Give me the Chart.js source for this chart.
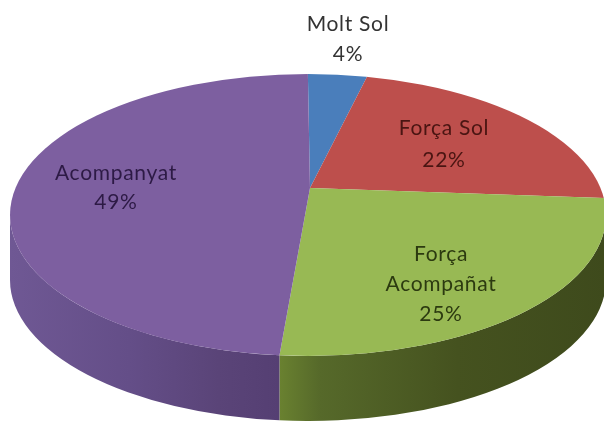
<!DOCTYPE html>
<html>
<head>
<meta charset="utf-8">
<style>html,body{margin:0;padding:0;background:#fff}canvas{display:block}</style>
<script src="https://cdn.jsdelivr.net/npm/chart.js@4"></script>
</head>
<body>
<canvas id="c" width="604" height="421"></canvas>
<script>
const categories = ["Molt Sol", "Força Sol", "Força Acompañat", "Acompanyat"];
const values = [3.9, 22.4, 25.2, 48.5];
const labelLines = [["Molt Sol", "4%"], ["Força Sol", "22%"], ["Força", "Acompañat", "25%"], ["Acompanyat", "49%"]];

const topColours = ["#4a7ebb", "#bd4f4c", "#98b954", "#7d5fa0"];
const textColours = ["#333333", "#4a1512", "#2c3a10", "#2d1a45"];
const labelSpots = [[348, 24, 30], [444, 128, 32], [441, 254, 30], [116, 173, 29]];
const sideStops = [
  null, null,
  [[0.45, "#6a8230"], [0.52, "#56692a"], [0.75, "#45521f"], [1, "#3e4a1c"]],
  [[0, "#6f5894"], [0.2, "#644e88"], [0.35, "#5a4478"], [0.45, "#553f73"], [0.46, "#544178"]]
];
const disc = {cx: 308, cy: 215, rx: 298, ry: 141, depth: 65, apexX: 310, apexY: 188, squash: 0.47};

function rayToEllipse(angle, sx, sy) {
  const dx = Math.cos(angle) * sx, dy = Math.sin(angle) * sy;
  const ox = (disc.apexX - disc.cx) / disc.rx, oy = (disc.apexY - disc.cy) / disc.ry;
  const ux = dx / disc.rx, uy = dy / disc.ry;
  const a = ux * ux + uy * uy, b = 2 * (ox * ux + oy * uy), c = ox * ox + oy * oy - 1;
  const s = (-b + Math.sqrt(b * b - 4 * a * c)) / (2 * a);
  return Math.atan2(oy + s * uy, ox + s * ux);
}

const pie3d = {
  id: "pie3d",
  beforeDatasetsDraw(chart) {
    const ctx = chart.ctx, arcs = chart.getDatasetMeta(0).data;
    const sx = 440 / arcs[0].outerRadius, sy = sx * disc.squash;
    arcs.forEach((arc, i) => {
      if (!sideStops[i]) return;
      const t1 = rayToEllipse(arc.startAngle, sx, sy);
      let t2 = rayToEllipse(arc.endAngle, sx, sy);
      while (t2 <= t1) t2 += Math.PI * 2;
      const from = Math.max(t1, 0), to = Math.min(t2, Math.PI);
      if (to <= from) return;
      const g = ctx.createLinearGradient(disc.cx - disc.rx, 0, disc.cx + disc.rx, 0);
      sideStops[i].forEach(s => g.addColorStop(s[0], s[1]));
      ctx.beginPath();
      ctx.ellipse(disc.cx, disc.cy, disc.rx, disc.ry, 0, from, to);
      ctx.ellipse(disc.cx, disc.cy + disc.depth, disc.rx, disc.ry, 0, to, from, true);
      ctx.closePath();
      ctx.fillStyle = g;
      ctx.fill();
    });
    ctx.save();
    ctx.beginPath();
    ctx.ellipse(disc.cx, disc.cy, disc.rx, disc.ry, 0, 0, Math.PI * 2);
    ctx.clip();
    ctx.translate(disc.apexX, disc.apexY);
    ctx.scale(sx, sy);
    ctx.translate(-arcs[0].x, -arcs[0].y);
  },
  afterDatasetsDraw(chart) {
    const ctx = chart.ctx;
    ctx.restore();
    ctx.save();
    ctx.textAlign = "center";
    ctx.textBaseline = "middle";
    ctx.font = "21px Lato, 'Open Sans', sans-serif";
    ctx.letterSpacing = "0.7px";
    labelLines.forEach((lines, i) => {
      ctx.fillStyle = textColours[i];
      const s = labelSpots[i];
      lines.forEach((t, j) => ctx.fillText(t, s[0], s[1] + j * s[2]));
    });
    ctx.restore();
  }
};

new Chart(document.getElementById("c"), {
  type: "pie",
  data: {
    labels: categories,
    datasets: [{data: values, backgroundColor: topColours, borderWidth: 0, clip: false}]
  },
  options: {
    responsive: false,
    animation: false,
    rotation: -0.5,
    plugins: {legend: {display: false}, tooltip: {enabled: false}}
  },
  plugins: [pie3d]
});
</script>
</body>
</html>
